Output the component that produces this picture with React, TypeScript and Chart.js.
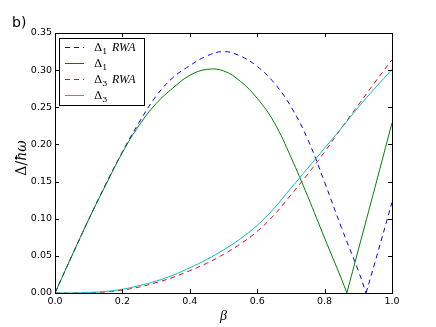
import React, { useEffect, useRef } from "react";
import { Chart, registerables } from "chart.js";

Chart.register(...registerables);

// beta grid (0 .. 1 step 0.05)
const beta = [0, 0.05, 0.1, 0.15, 0.2, 0.25, 0.3, 0.35, 0.4, 0.45, 0.5, 0.55, 0.6, 0.65, 0.7, 0.75, 0.8, 0.85, 0.9, 0.95, 1.0];

// Delta_1 RWA (blue dashed)
const betaD1RWA = [0, 0.05, 0.1, 0.15, 0.2, 0.25, 0.3, 0.35, 0.4, 0.45, 0.5, 0.55, 0.6, 0.65, 0.7, 0.75, 0.8, 0.85, 0.9, 0.923, 0.95, 1.0];
const d1RWA = [0, 0.05, 0.099, 0.146, 0.19, 0.23, 0.265, 0.29, 0.306, 0.319, 0.325, 0.319, 0.305, 0.283, 0.251, 0.207, 0.149, 0.088, 0.03, 0, 0.042, 0.122];
const d1RWAZero = 19; // index of the cusp

// Delta_1 (green)
const betaD1 = [0, 0.05, 0.1, 0.15, 0.2, 0.25, 0.3, 0.35, 0.4, 0.45, 0.5, 0.55, 0.6, 0.65, 0.7, 0.75, 0.8, 0.85, 0.866, 0.9, 0.95, 1.0];
const d1 = [0, 0.05, 0.099, 0.145, 0.189, 0.226, 0.255, 0.276, 0.293, 0.301, 0.299, 0.285, 0.262, 0.23, 0.183, 0.13, 0.074, 0.019, 0, 0.058, 0.143, 0.229];
const d1Zero = 18; // index of the cusp

// Delta_3 RWA (red dashed)
const d3RWA = [0, 0, 0.0005, 0.0015, 0.004, 0.008, 0.014, 0.021, 0.03, 0.04, 0.052, 0.066, 0.083, 0.105, 0.132, 0.16, 0.19, 0.222, 0.253, 0.284, 0.314];

// Delta_3 (cyan)
const d3 = [0, 0, 0.0007, 0.002, 0.005, 0.01, 0.016, 0.024, 0.034, 0.045, 0.058, 0.073, 0.091, 0.114, 0.141, 0.168, 0.195, 0.222, 0.25, 0.276, 0.301];

const xTicks = [0, 0.2, 0.4, 0.6, 0.8, 1.0];
const yTicks = [0, 0.05, 0.1, 0.15, 0.2, 0.25, 0.3, 0.35];

const BLUE = "#0000ff";
const GREEN = "#008000";
const RED = "#ff0000";
const CYAN = "#00bfbf";
const DASH = [5, 4];

const legendItems = [
  { sub: "1", rwa: true, color: BLUE, dash: true },
  { sub: "1", rwa: false, color: GREEN, dash: false },
  { sub: "3", rwa: true, color: RED, dash: true },
  { sub: "3", rwa: false, color: CYAN, dash: false },
];

const pts = (xs: number[], ys: number[], from = 0, to = xs.length) =>
  xs.slice(from, to).map((x, i) => ({ x, y: ys[from + i] }));

const framePlugin = {
  id: "framePlugin",
  afterDraw(chart: any) {
    const ctx = chart.ctx;
    const a = chart.chartArea;
    const xs = chart.scales.x;
    const ys = chart.scales.y;
    ctx.save();
    ctx.strokeStyle = "#000";
    ctx.lineWidth = 1;
    ctx.setLineDash([]);
    ctx.strokeRect(Math.round(a.left) + 0.5, Math.round(a.top) + 0.5, Math.round(a.right - a.left), Math.round(a.bottom - a.top));
    const tl = 4;
    ctx.beginPath();
    xTicks.forEach((t) => {
      const px = Math.round(xs.getPixelForValue(t)) + 0.5;
      ctx.moveTo(px, a.bottom);
      ctx.lineTo(px, a.bottom - tl);
      ctx.moveTo(px, a.top);
      ctx.lineTo(px, a.top + tl);
    });
    yTicks.forEach((t) => {
      const py = Math.round(ys.getPixelForValue(t)) + 0.5;
      ctx.moveTo(a.left, py);
      ctx.lineTo(a.left + tl, py);
      ctx.moveTo(a.right, py);
      ctx.lineTo(a.right - tl, py);
    });
    ctx.stroke();

    // legend
    const lx = 59, ly = 38, lw = 85, lh = 67;
    ctx.fillStyle = "#fff";
    ctx.fillRect(lx, ly, lw, lh);
    ctx.strokeStyle = "#000";
    ctx.strokeRect(lx + 0.5, ly + 0.5, lw, lh);
    legendItems.forEach((it, i) => {
      const yy = 47 + i * 16;
      ctx.strokeStyle = it.color;
      ctx.lineWidth = 1;
      ctx.setLineDash(it.dash ? DASH : []);
      ctx.beginPath();
      ctx.moveTo(65, yy + 0.5);
      ctx.lineTo(84, yy + 0.5);
      ctx.stroke();
      ctx.setLineDash([]);
      ctx.fillStyle = "#000";
      ctx.textBaseline = "alphabetic";
      ctx.textAlign = "left";
      ctx.font = '11.5px "DejaVu Serif"';
      ctx.fillText("\u0394", 94, yy + 4);
      const dw = ctx.measureText("\u0394").width;
      ctx.font = '8px "DejaVu Serif"';
      ctx.fillText(it.sub, 94 + dw, yy + 6.5);
      if (it.rwa) {
        ctx.font = 'italic 12px "Liberation Serif"';
        ctx.fillText("RWA", 112, yy + 4);
      }
    });

    // axis titles
    ctx.fillStyle = "#000";
    ctx.textAlign = "center";
    ctx.textBaseline = "middle";
    ctx.font = 'italic 14px "Liberation Serif"';
    ctx.fillText("\u03b2", (a.left + a.right) / 2, 316);

    ctx.save();
    ctx.translate(22, 158);
    ctx.rotate(-Math.PI / 2);
    ctx.textAlign = "left";
    ctx.font = '14px "DejaVu Serif"';
    const p1 = "\u0394/";
    const w1 = ctx.measureText(p1).width;
    ctx.font = 'italic 14px "DejaVu Serif"';
    const p2 = "\u0127\u03c9";
    const w2 = ctx.measureText(p2).width;
    const start = -(w1 + w2) / 2;
    ctx.font = '14px "DejaVu Serif"';
    ctx.fillText(p1, start, 0);
    ctx.font = 'italic 14px "DejaVu Serif"';
    ctx.fillText(p2, start + w1, 0);
    ctx.restore();

    ctx.textAlign = "left";
    ctx.textBaseline = "alphabetic";
    ctx.font = '14px "DejaVu Sans"';
    ctx.fillText("b)", 12, 27);
    ctx.restore();
  },
};

export default function App() {
  const ref = useRef<HTMLCanvasElement | null>(null);
  useEffect(() => {
    document.body.style.margin = "0";
    const canvas = ref.current;
    if (!canvas) return;
    const tickFont = { family: '"DejaVu Sans", sans-serif', size: 9.5 };
    const common = { borderWidth: 1, pointRadius: 0, tension: 0.4 };
    const chart = new Chart(canvas, {
      type: "line",
      data: {
        datasets: [
          { label: "D1 RWA a", data: pts(betaD1RWA, d1RWA, 0, d1RWAZero + 1), borderColor: BLUE, borderDash: DASH, order: 6, ...common },
          { label: "D1 RWA b", data: pts(betaD1RWA, d1RWA, d1RWAZero), borderColor: BLUE, borderDash: DASH, order: 5, ...common },
          { label: "D1 a", data: pts(betaD1, d1, 0, d1Zero + 1), borderColor: GREEN, order: 4, ...common },
          { label: "D1 b", data: pts(betaD1, d1, d1Zero), borderColor: GREEN, order: 3, ...common },
          { label: "D3 RWA", data: pts(beta, d3RWA), borderColor: RED, borderDash: DASH, order: 2, ...common },
          { label: "D3", data: pts(beta, d3), borderColor: CYAN, order: 1, ...common },
        ] as any,
      },
      options: {
        animation: false,
        responsive: false,
        maintainAspectRatio: false,
        layout: { padding: { top: 33, right: 44, left: 0, bottom: 0 } },
        plugins: { legend: { display: false }, tooltip: { enabled: false } },
        scales: {
          x: {
            type: "linear",
            min: 0,
            max: 1,
            grid: { display: false, drawTicks: false },
            border: { display: false },
            afterBuildTicks: (s: any) => { s.ticks = xTicks.map((v) => ({ value: v })); },
            afterFit: (s: any) => { s.height = 34; },
            ticks: { color: "#000", font: tickFont, padding: 3, maxRotation: 0, callback: (v: any) => Number(v).toFixed(1) },
          },
          y: {
            type: "linear",
            min: 0,
            max: 0.35,
            grid: { display: false, drawTicks: false },
            border: { display: false },
            afterBuildTicks: (s: any) => { s.ticks = yTicks.map((v) => ({ value: v })); },
            afterFit: (s: any) => { s.width = 55; },
            ticks: { color: "#000", font: tickFont, padding: 3, callback: (v: any) => Number(v).toFixed(2) },
          },
        },
      } as any,
      plugins: [framePlugin],
    });
    return () => chart.destroy();
  }, []);
  return (
    <div style={{ width: 436, height: 327, position: "relative", background: "#fff" }}>
      <canvas ref={ref} width={436} height={327} style={{ display: "block", width: 436, height: 327 }} />
    </div>
  );
}
